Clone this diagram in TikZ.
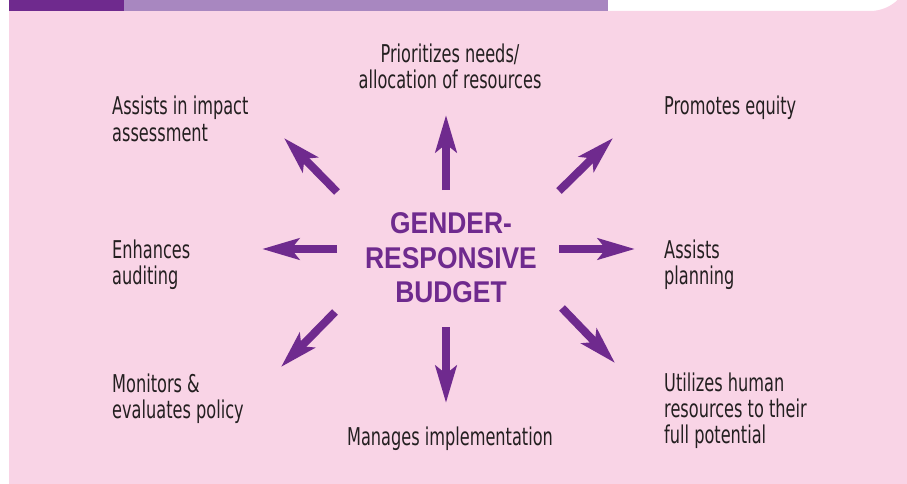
\documentclass[tikz,border=0pt]{standalone}
\usepackage{fontspec}
\usetikzlibrary{arrows.meta}
\newfontfamily\lblfont[FakeStretch=0.66]{DejaVu Sans}
\newfontfamily\ctrfont[FakeStretch=0.88]{Liberation Sans Bold}
\definecolor{grpurple}{HTML}{6F2A8E}
\definecolor{grpink}{HTML}{F9D4E6}
\definecolor{grbar}{HTML}{A887C0}
\definecolor{grtext}{HTML}{231F20}
\tikzset{
  lbl/.style={font=\lblfont\fontsize{24.5}{26}\selectfont, text=grtext, inner sep=0pt, align=left},
  lblc/.style={font=\lblfont\fontsize{24.5}{26}\selectfont, text=grtext, inner sep=0pt, align=center},
  ctr/.style={font=\ctrfont\fontsize{30}{34.5}\selectfont, text=grpurple, inner sep=0pt, align=center},
  arr/.style={draw=grpurple, line width=8pt, -{Stealth[length=37pt,width=21pt,inset=8pt]}}
}
\begin{document}
\begin{tikzpicture}[x=1pt,y=-1pt]
\useasboundingbox (0,0) rectangle (907,484);
\begin{scope}
\clip (0,0) rectangle (907,484);
\fill[grpink] (9,500) -- (9,11) -- (870,11) arc[start angle=90,end angle=0,radius=40] -- (910,500) -- cycle;
\fill[grpurple] (9,0) rectangle (124,11);
\fill[grbar] (124,0) rectangle (608,11);
\end{scope}
\node[ctr] (c) at (451,258) {GENDER-\\RESPONSIVE\\BUDGET};
% arrows
\coordinate (sN) at (446,190); \coordinate (tN) at (446,115);
\coordinate (sS) at (446,327); \coordinate (tS) at (446,403);
\coordinate (sW) at (337,249); \coordinate (tW) at (262,249);
\coordinate (sE) at (559,249); \coordinate (tE) at (635,249);
\coordinate (sNW) at (337,192); \coordinate (tNW) at (284,138);
\coordinate (sNE) at (559,191); \coordinate (tNE) at (613,138);
\coordinate (sSW) at (335,312); \coordinate (tSW) at (281,367);
\coordinate (sSE) at (562,308); \coordinate (tSE) at (615,363);
\foreach \d in {N,S,W,E,NW,NE,SW,SE} \draw[arr] (s\d) -- (t\d);
% labels (base anchor = baseline of last line)
\node[lblc, anchor=base] (l1) at (450,89) {Prioritizes needs/\\allocation of resources};
\node[lbl, anchor=base west] (l2) at (112,141) {Assists in impact\\assessment};
\node[lbl, anchor=base west] (l3) at (664,115) {Promotes equity};
\node[lbl, anchor=base west] (l4) at (112,284) {Enhances\\auditing};
\node[lbl, anchor=base west] (l5) at (664,284) {Assists\\planning};
\node[lbl, anchor=base west] (l6) at (112,418) {Monitors \&\\evaluates policy};
\node[lblc, anchor=base] (l7) at (450,445) {Manages implementation};
\node[lbl, anchor=base west] (l8) at (664,443) {Utilizes human\\resources to their\\full potential};
\end{tikzpicture}
\end{document}
